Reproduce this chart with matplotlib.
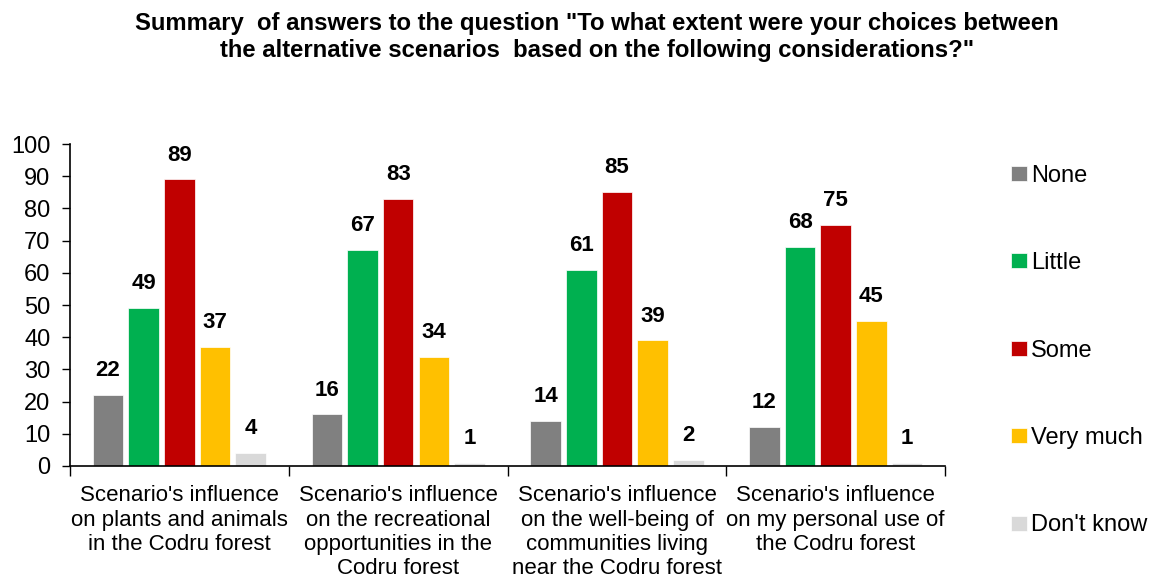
import numpy as np
import matplotlib.pyplot as plt

plt.rcParams['font.family'] = ['Liberation Sans', 'DejaVu Sans']

categories = [
    "Scenario's influence\non plants and animals\nin the Codru forest",
    "Scenario's influence\non the recreational\nopportunities in the\nCodru forest",
    "Scenario's influence\non the well-being of\ncommunities living\nnear the Codru forest",
    "Scenario's influence\non my personal use of\nthe Codru forest",
]
answers = ["None", "Little", "Some", "Very much", "Don't know"]
none = [22, 16, 14, 12]
little = [49, 67, 61, 68]
some = [89, 83, 85, 75]
very_much = [37, 34, 39, 45]
dont_know = [4, 1, 2, 1]
colors = ["#808080", "#00B050", "#C00000", "#FFC000", "#D9D9D9"]

series = [none, little, some, very_much, dont_know]

fig = plt.figure(figsize=(11.53, 5.78), dpi=100)
ax = fig.add_axes([0.0607, 0.1938, 0.759, 0.557])

x = np.arange(len(categories))
step = 0.163
width = 0.14
for i, (vals, name, col) in enumerate(zip(series, answers, colors)):
    pos = x + (i - 2) * step
    bars = ax.bar(pos, vals, width, color=col, label=name, edgecolor='white', linewidth=0.5)
    for b, v in zip(bars, vals):
        ax.annotate(str(v), (b.get_x() + b.get_width() / 2, v),
                    xytext=(0, 10), textcoords='offset points',
                    ha='center', va='bottom', fontsize=16, fontweight='bold')

ax.set_xlim(-0.5, len(categories) - 0.5)
ax.set_ylim(0, 100)
ax.set_yticks(range(0, 101, 10))
ax.tick_params(axis='y', labelsize=17, length=6, width=1, direction='out', pad=8)
ax.set_xticks(x)
ax.set_xticklabels(categories, fontsize=16, linespacing=1.2)
ax.tick_params(axis='x', length=0, pad=14)
ax.set_xticks(np.arange(-0.5, len(categories)), minor=True)
ax.tick_params(axis='x', which='minor', length=7, width=1, direction='out')

for s in ['top', 'right']:
    ax.spines[s].set_visible(False)
ax.spines['left'].set_linewidth(1.2)
ax.spines['bottom'].set_linewidth(1.2)

ax.legend(loc='upper left', bbox_to_anchor=(1.064, 0.965), frameon=False,
          fontsize=17, handlelength=0.68, handleheight=0.6, handletextpad=0.2,
          labelspacing=2.77, borderaxespad=0)

fig.suptitle('Summary  of answers to the question "To what extent were your choices between\n'
             'the alternative scenarios  based on the following considerations?"',
             x=0.518, y=0.98, fontsize=17.2, fontweight='bold', linespacing=1.27)

fig.savefig('out.png', dpi=100)
